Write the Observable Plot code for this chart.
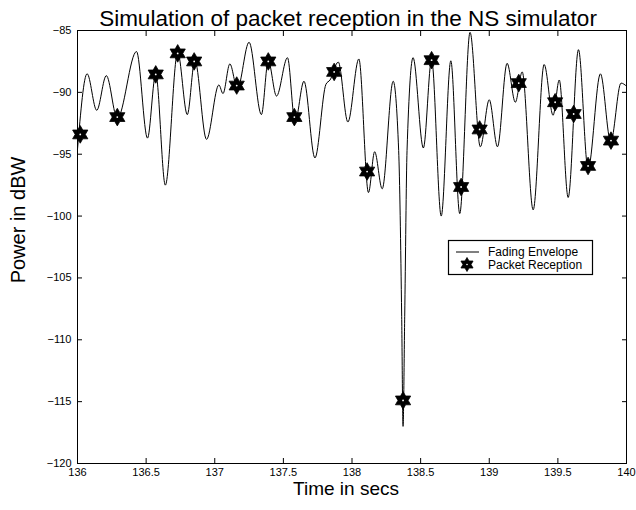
<!DOCTYPE html>
<html><head><meta charset="utf-8">
<script src="https://cdn.jsdelivr.net/npm/d3@7"></script>
<script src="https://cdn.jsdelivr.net/npm/@observablehq/plot@0.6"></script>
<style>body{margin:0;background:#fff} #chart{width:636px;height:510px}</style>
</head><body><div id="chart"></div>
<script>
// ---- data ----
const envTime = [136.00,136.07,136.14,136.21,136.29,136.43,136.51,136.57,136.64,136.73,136.80,136.855,136.94,137.03,137.06,137.11,137.165,137.25,137.34,137.39,137.45,137.53,137.585,137.65,137.73,137.81,137.84,137.90,137.97,138.05,138.12,138.165,138.22,138.30,138.340,138.362,138.372,138.384,138.401,138.445,138.52,138.58,138.65,138.72,138.785,138.86,138.935,139.00,139.06,139.13,139.19,139.24,139.32,139.40,139.465,139.51,139.575,139.65,139.72,139.81,139.885,139.96,140.00];
const envPower = [-94.6,-88.5,-91.45,-88.65,-92.1,-86.7,-93.7,-88.5,-97.5,-86.75,-91.8,-87.4,-93.8,-89.4,-90.1,-87.7,-89.7,-85.95,-91.8,-87.45,-90.3,-87.2,-92.4,-89.1,-95.3,-89.35,-89.0,-87.55,-92.4,-87.3,-98.1,-94.8,-97.8,-89.1,-94.7,-108.1,-117.0,-108.1,-94.7,-87.2,-94.5,-87.35,-100.0,-87.45,-99.8,-85.15,-94.4,-90.6,-94.4,-87.65,-90.8,-88.35,-99.5,-87.75,-91.85,-89.0,-98.5,-86.55,-96.2,-88.5,-94.0,-89.25,-89.5];
const rxTime = [136.02,136.29,136.57,136.73,136.85,137.16,137.39,137.58,137.87,138.11,138.372,138.58,138.795,138.93,139.215,139.48,139.615,139.72,139.887];
const rxPower = [-93.4,-92.0,-88.55,-86.85,-87.5,-89.45,-87.5,-92.0,-88.35,-96.4,-114.9,-87.4,-97.65,-93.0,-89.25,-90.8,-91.75,-95.95,-93.9];
const xTicks = [136,136.5,137,137.5,138,138.5,139,139.5,140];
const yTicks = [-85,-90,-95,-100,-105,-110,-115,-120];
const titleText = "Simulation of packet reception in the NS simulator";
const xLabel = "Time in secs";
const yLabel = "Power in dBW";
const legendLabels = ["Fading Envelope", "Packet Reception"];

const envelope = envTime.map((t, i) => ({t, p: envPower[i]}));
const packets = rxTime.map((t, i) => ({t, p: rxPower[i], n: i + 1}));

const hexagram = {
  draw(context, size) {
    const R = Math.sqrt(size / Math.PI), r = R / Math.sqrt(3);
    for (let i = 0; i < 12; i++) {
      const a = Math.PI / 2 + i * Math.PI / 6, rr = i % 2 === 0 ? R : r;
      const x = rr * Math.cos(a), y = -rr * Math.sin(a);
      i ? context.lineTo(x, y) : context.moveTo(x, y);
    }
    context.closePath();
  }
};

const font = "'Liberation Sans', Arial, Helvetica, sans-serif";
const chart = Plot.plot({
  width: 636, height: 510,
  marginTop: 30, marginLeft: 77, marginRight: 10, marginBottom: 47,
  style: {fontFamily: font, fontSize: "11px", color: "black", background: "white", overflow: "visible"},
  x: {domain: [136, 140]},
  y: {domain: [-120, -85]},
  marks: [
    Plot.line(envelope, {x: "t", y: "p", curve: "monotone-x", stroke: "black", strokeWidth: 1}),
    Plot.dot(packets, {x: "t", y: "p", symbol: hexagram, r: 8.8, fill: "black", stroke: "black", strokeWidth: 0.8}),
    Plot.dot(packets, {x: "t", y: "p", r: 0.9, fill: "white"}),
    Plot.frame({stroke: "black", strokeWidth: 1}),
    Plot.axisX({ticks: xTicks, tickSize: 0, tickPadding: 5, tickFormat: d => `${d}`, label: null, fontSize: 11}),
    Plot.axisX({ticks: xTicks, tickSize: 5, dy: -5, tickFormat: () => "", label: null}),
    Plot.axisX({anchor: "top", ticks: xTicks, tickSize: 5, dy: 5, tickFormat: () => "", label: null}),
    Plot.axisY({ticks: yTicks, tickSize: 0, tickPadding: 6, label: null, fontSize: 11}),
    Plot.axisY({ticks: yTicks, tickSize: 5, dx: 5, tickFormat: () => "", label: null}),
    Plot.axisY({anchor: "right", ticks: yTicks, tickSize: 5, dx: -5, tickFormat: () => "", label: null}),
    Plot.text([titleText], {frameAnchor: "top", textAnchor: "middle", dx: -4, dy: -20, fontSize: 22.5, fill: "black"}),
    Plot.text([xLabel], {frameAnchor: "bottom", textAnchor: "middle", dx: -6, dy: 31, fontSize: 19, fill: "black"}),
    Plot.text([yLabel], {frameAnchor: "left", textAnchor: "middle", dx: -59, dy: -27, rotate: -90, fontSize: 20, fill: "black"})
  ]
});
document.getElementById("chart").appendChild(chart);

// legend box
const svg = d3.select(chart);
const lg = svg.append("g").attr("font-family", font).attr("font-size", 12).attr("text-anchor", "start");
lg.append("rect").attr("x", 448.5).attr("y", 240.5).attr("width", 144).attr("height", 34)
  .attr("fill", "white").attr("stroke", "black").attr("stroke-width", 1.2);
lg.append("line").attr("x1", 456).attr("x2", 479).attr("y1", 252).attr("y2", 252).attr("stroke", "black");
lg.append("path").attr("d", d3.symbol(hexagram, Math.PI * 7 * 7)()).attr("transform", "translate(467,264.5)")
  .attr("fill", "black").attr("stroke", "black").attr("stroke-width", 0.8);
lg.append("circle").attr("cx", 467).attr("cy", 264.5).attr("r", 0.8).attr("fill", "white");
lg.selectAll("text.l").data(legendLabels).join("text")
  .attr("x", 488).attr("y", (d, i) => 252 + i * 12.5).attr("dy", "0.35em").attr("fill", "black").text(d => d);
</script></body></html>
